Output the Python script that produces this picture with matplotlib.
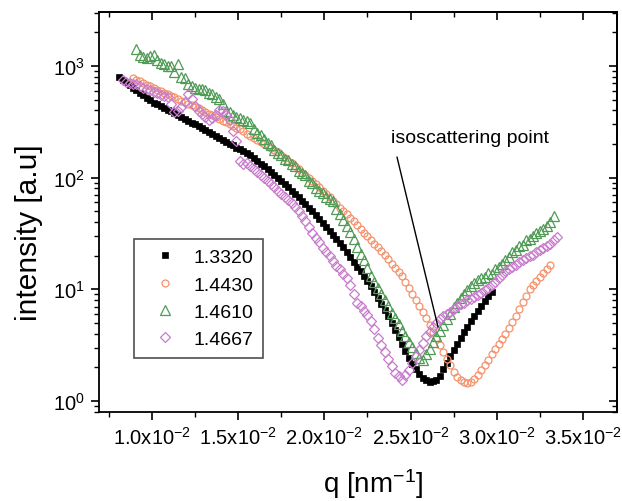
import numpy as np
import matplotlib
matplotlib.use("Agg")
import matplotlib.pyplot as plt
from matplotlib.ticker import FixedLocator, FuncFormatter, LogLocator, NullFormatter

plt.rcParams['font.family'] = ['Liberation Sans', 'DejaVu Sans']
plt.rcParams['mathtext.fontset'] = 'custom'
plt.rcParams['mathtext.rm'] = 'Liberation Sans'
plt.rcParams['mathtext.it'] = 'Liberation Sans:italic'
plt.rcParams['mathtext.default'] = 'regular'

nan = np.nan

# q values in units of 1e-2 nm^-1 (shared grid)
q_e2 = [0.81, 0.83, 0.85, 0.87, 0.89, 0.91, 0.93, 0.95, 0.97, 0.99,
        1.01, 1.03, 1.05, 1.07, 1.09, 1.11, 1.13, 1.15, 1.17, 1.19,
        1.21, 1.23, 1.25, 1.27, 1.29, 1.31, 1.33, 1.35, 1.37, 1.39,
        1.41, 1.43, 1.45, 1.47, 1.49, 1.51, 1.53, 1.55, 1.57, 1.59,
        1.61, 1.63, 1.65, 1.67, 1.69, 1.71, 1.73, 1.75, 1.77, 1.79,
        1.81, 1.83, 1.85, 1.87, 1.89, 1.91, 1.93, 1.95, 1.97, 1.99,
        2.01, 2.03, 2.05, 2.07, 2.09, 2.11, 2.13, 2.15, 2.17, 2.19,
        2.21, 2.23, 2.25, 2.27, 2.29, 2.31, 2.33, 2.35, 2.37, 2.39,
        2.41, 2.43, 2.45, 2.47, 2.49, 2.51, 2.53, 2.55, 2.57, 2.59,
        2.61, 2.63, 2.65, 2.67, 2.69, 2.71, 2.73, 2.75, 2.77, 2.79,
        2.81, 2.83, 2.85, 2.87, 2.89, 2.91, 2.93, 2.95, 2.97, 2.99,
        3.01, 3.03, 3.05, 3.07, 3.09, 3.11, 3.13, 3.15, 3.17, 3.19,
        3.21, 3.23, 3.25, 3.27, 3.29, 3.31, 3.33, 3.35]

# n = 1.3320
I_13320 = [791, 750, 711, 675, 640, 607, 575, 546, 518, 491,
           470, 453, 437, 421, 406, 391, 377, 363,
           349, 336, 323, 310, 299, 288, 277, 266, 256,
           246, 237, 228, 218, 210, 201, 194, 186, 179, 172, 165, 158,
           150, 141, 133, 126, 119, 112, 105, 99.5, 94.0,
           88.1, 82.0, 76.4, 71.3, 66.4, 61.8, 57.5, 53.6, 50.0, 46.6,
           43.0, 39.5, 36.4, 33.6, 30.9, 28.4, 26.2,
           23.9, 21.6, 19.5, 17.7, 16.0, 14.5, 13.1, 11.8,
           10.6, 9.42, 8.32, 7.36, 6.52, 5.77,
           5.04, 4.35, 3.75, 3.24, 2.79, 2.41,
           2.13, 1.93, 1.75, 1.62, 1.54, 1.47, 1.50, 1.53,
           1.66, 1.92, 2.21, 2.55, 2.87, 3.24, 3.65, 4.11, 4.63,
           5.20, 5.75, 6.37, 7.05, 7.80, 8.63, 9.55,
           nan, nan, nan, nan, nan, nan, nan, nan, nan, nan,
           nan, nan, nan, nan, nan, nan, nan, nan, nan]

# n = 1.4430
I_14430 = [nan, nan, nan, nan,
           782, 755, 729, 705, 681, 658,
           635, 615, 596, 577, 558, 541, 524, 507, 490, 474, 459, 445, 431, 417,
           402, 388, 374, 361, 348, 336, 324, 313, 301, 290, 281,
           270, 259, 248, 238, 228, 219, 210, 201, 193, 185, 177, 170,
           160, 151, 142, 134, 126, 119, 111, 105, 98.9, 93.1, 87.7,
           82.2, 76.6, 71.4, 66.5, 62.1, 57.8, 54.0, 50.2, 46.9, 43.7,
           40.5, 37.5, 34.8, 32.2, 29.9, 27.7, 25.6, 23.8,
           22.0, 20.2, 18.5, 17.0, 15.6, 14.4, 13.2,
           11.6, 10.3, 9.08, 8.03, 7.10, 6.27,
           5.50, 4.79, 4.17, 3.63, 3.16,
           2.75, 2.40, 2.09, 1.82,
           1.64, 1.53, 1.48, 1.46, 1.48, 1.57,
           1.72, 1.88, 2.08,
           2.34, 2.61, 2.90, 3.24, 3.61, 4.02, 4.48,
           5.06, 5.79, 6.64, 7.62, 8.73, 10.0,
           10.9, 11.8, 12.9, 14.0, 15.2, 16.6,
           nan, nan]

# n = 1.4610
I_14610 = [nan, nan, nan, nan, nan,
           1413, 1259, 1202, 1175, 1230, 1259, 1122, 1072, 1047, 1000,
           1000, 891, 1047, 794, 776, 692, 661, 631, 617, 617,
           603, 575, 562, 525, 501, 457, 398, 389, 363, 347,
           339, 331, 324, 309, 275, 251, 240, 224, 204, 195,
           178, 166, 158, 148, 145, 132, 126, 115, 110, 105,
           93.3, 89.1, 81.3, 75.9, 72.4, 67.6, 64.6, 61.7, 52.5, 46.8,
           41.7, 37.2, 32.4, 28.2, 24.0, 20.9, 18.2, 15.5, 13.2, 11.7,
           10.2, 9.12, 7.94, 7.08, 6.17, 5.50, 4.90, 4.27, 3.80, 3.39,
           3.02, 2.69, 2.45, 2.34, 2.63, 2.95, 3.39, 3.80, 4.27, 4.79,
           5.37, 6.03, 6.92, 7.59, 8.32, 9.12, 9.77, 10.7, 11.5, 12.0,
           12.6, 12.9, 14.1, 13.8, 15.1, 15.8, 17.0, 18.2, 19.5, 21.4,
           22.4, 24.5, 25.1, 27.5, 28.2, 30.2, 31.6, 33.1, 34.7, 37.2,
           39.8, 45.7,
           nan]

# n = 1.4667
I_14667 = [nan,
           741, 724, 708, 692, 692, 661, 631, 617, 603,
           589, 575, 550, 537, 525, 457, 389, 398, 427, 479,
           562, 501, 437, 398, 372, 347, 331, 339, 363, 407,
           398, 363, 331, 263, 214, 141, 132, 135, 126, 120,
           112, 105, 100, 93.3, 87.1, 83.2, 75.9, 70.8, 67.6, 63.1,
           58.9, 55.0, 50.1, 45.7, 40.7, 36.3, 31.6, 28.8, 26.3, 23.4,
           21.4, 20.0, 17.8, 16.2, 15.1, 13.8, 12.6, 11.0, 9.12, 7.59,
           7.08, 6.46, 5.89, 5.25, 4.37, 3.63, 3.16, 2.75, 2.40, 2.04,
           1.78, 1.66, 1.55, 1.70, 1.91, 2.19, 2.51, 2.88, 3.31, 3.80,
           4.17, 4.57, 5.01, 5.37, 5.75, 6.03, 6.31, 6.61, 7.08, 7.41,
           7.59, 7.94, 8.13, 8.51, 8.91, 9.33, 9.77, 10.2, 11.0, 11.7,
           12.6, 13.5, 14.5, 15.1, 15.8, 16.6, 17.4, 18.2, 19.1, 20.0,
           20.4, 21.4, 22.4, 23.4, 24.5, 25.7, 27.5, 29.5]

labels = ['1.3320', '1.4430', '1.4610', '1.4667']
x_ticks = [0.010, 0.015, 0.020, 0.025, 0.030, 0.035]
x_minor = [0.0075, 0.0125, 0.0175, 0.0225, 0.0275, 0.0325]
x_ticklabels = ['1.0x10$^{-2}$', '1.5x10$^{-2}$', '2.0x10$^{-2}$',
                '2.5x10$^{-2}$', '3.0x10$^{-2}$', '3.5x10$^{-2}$']

for s in (I_13320, I_14430, I_14610, I_14667):
    assert len(s) == len(q_e2), len(s)

q = np.array(q_e2) * 1e-2

fig = plt.figure(figsize=(6.22, 5.02), dpi=100)
ax = fig.add_axes([99 / 622, 1 - 413 / 502, 518 / 622, 400 / 502])

ax.plot(q, I_13320, ls='none', marker='s', ms=4.3, mfc='black', mec='black',
        mew=0.5, label=labels[0])
ax.plot(q, I_14430, ls='none', marker='o', ms=5.0, mfc='none', mec='#f4926c',
        mew=0.9, label=labels[1])
ax.plot(q, I_14610, ls='none', marker='^', ms=7.2, mfc='none', mec='#4f9a55',
        mew=0.9, label=labels[2])
ax.plot(q, I_14667, ls='none', marker='D', ms=5.2, mfc='none', mec='#c87ccc',
        mew=0.9, label=labels[3])

ax.set_yscale('log')
ax.set_xlim(0.006926, 0.036972)
ax.set_ylim(0.797, 3040)

ax.xaxis.set_major_locator(FixedLocator(x_ticks))
ax.xaxis.set_major_formatter(FuncFormatter(
    lambda v, p: x_ticklabels[int(round((v - 0.010) / 0.005))]))
ax.xaxis.set_minor_locator(FixedLocator(x_minor))
ax.yaxis.set_major_locator(LogLocator(base=10))
ax.yaxis.set_minor_locator(LogLocator(base=10, subs=np.arange(2, 10)))
ax.yaxis.set_minor_formatter(NullFormatter())

for sp in ax.spines.values():
    sp.set_linewidth(1.3)
ax.tick_params(which='major', direction='out', length=6, width=1.2,
               labelsize=14.5, pad=4)
ax.tick_params(which='minor', direction='out', length=3.5, width=1.0)

secx = ax.secondary_xaxis('top')
secx.xaxis.set_major_locator(FixedLocator(x_ticks))
secx.xaxis.set_minor_locator(FixedLocator(x_minor))
secx.tick_params(which='major', direction='in', length=6, width=1.2, labeltop=False)
secx.tick_params(which='minor', direction='in', length=3.5, width=1.0)
secx.spines['top'].set_linewidth(1.3)

secy = ax.secondary_yaxis('right')
secy.yaxis.set_major_locator(LogLocator(base=10))
secy.yaxis.set_minor_locator(LogLocator(base=10, subs=np.arange(2, 10)))
secy.tick_params(which='major', direction='in', length=6, width=1.2, labelright=False)
secy.tick_params(which='minor', direction='in', length=3.5, width=1.0, labelright=False)
secy.spines['right'].set_linewidth(1.3)

ax.set_xlabel('q [nm$^{-1}$]', fontsize=20)
ax.set_ylabel('intensity [a.u]', fontsize=21.5)
ax.xaxis.set_label_coords(0.529, -0.135)
ax.yaxis.set_label_coords(-0.108, 0.45)

leg = ax.legend(loc='lower left', bbox_to_anchor=(0.0676, 0.135), fontsize=14,
                frameon=True, fancybox=False, edgecolor='#222222',
                handlelength=2.2, handletextpad=0.35, borderpad=0.5,
                labelspacing=0.5, borderaxespad=0)
leg.get_frame().set_linewidth(1.2)

ax.text(0.02386, 231, 'isoscattering point', fontsize=14, ha='left', va='center')
ax.annotate('', xy=(0.02659, 4.6), xytext=(0.02421, 153),
            arrowprops=dict(arrowstyle='-', color='black', lw=1.0,
                            shrinkA=0, shrinkB=0))

fig.savefig('out.png', dpi=100)
